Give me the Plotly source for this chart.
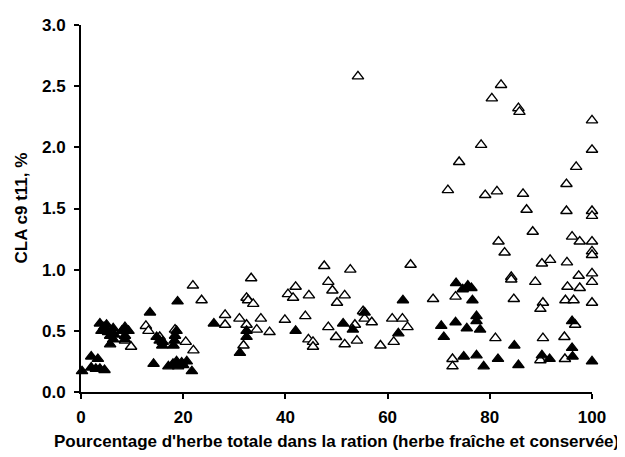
import plotly.graph_objects as go

# Filled triangles
filled_x = [0.2, 2.0, 3.3, 2.0, 2.9, 3.7, 4.6,
            3.7, 5.0, 6.3, 4.0, 5.3, 5.7, 5.7, 4.5, 6.5, 6.3,
            8.6, 9.3, 8.0, 8.6, 8.6,
            13.5, 14.2, 14.8, 15.4, 15.9, 16.0,
            18.1, 18.3, 18.4, 18.7, 18.9,
            17.1, 18.0, 18.7, 19.7, 20.7, 21.7, 19.0, 20.0,
            26.0, 31.1, 32.4, 32.4, 42.0, 51.3, 53.2, 55.5, 63.0, 62.1,
            70.5, 71.0, 73.3, 73.4, 74.7, 75.7, 76.4, 75.5, 76.6,
            77.4, 77.4, 78.1, 74.9, 77.4, 78.8, 81.6, 84.8, 85.6,
            90.2, 91.7, 96.1, 96.1, 96.2, 100.0]
filled_y = [0.17, 0.29, 0.27, 0.20, 0.19, 0.19, 0.18,
            0.56, 0.55, 0.52, 0.50, 0.49, 0.46, 0.39, 0.53, 0.47, 0.43,
            0.53, 0.50, 0.50, 0.46, 0.43,
            0.65, 0.23, 0.45, 0.42, 0.38, 0.41,
            0.38, 0.42, 0.46, 0.50, 0.74,
            0.21, 0.23, 0.25, 0.24, 0.25, 0.17, 0.21, 0.22,
            0.56, 0.32, 0.50, 0.45, 0.50, 0.56, 0.51, 0.65, 0.75, 0.48,
            0.54, 0.45, 0.57, 0.89, 0.84, 0.87, 0.85, 0.52, 0.75,
            0.62, 0.58, 0.51, 0.29, 0.30, 0.21, 0.27, 0.38, 0.22,
            0.30, 0.27, 0.58, 0.36, 0.29, 0.25]

# Open triangles
open_x = [8.6, 9.8, 12.7, 13.2, 15.4, 18.4, 20.5, 22.0, 21.9, 23.6,
          28.2, 28.2, 31.0, 32.4, 32.7, 33.7, 33.3, 32.4, 31.8, 34.4,
          35.2, 36.9, 39.9, 40.5, 41.5, 42.0, 43.9, 44.6, 44.5, 45.4, 45.4,
          47.6, 48.4, 49.2, 50.1, 51.6, 48.4, 49.9, 51.6, 52.7, 53.6, 54.0,
          54.2, 55.2, 55.5, 56.9, 58.6, 64.5, 60.9, 62.9, 63.9, 61.2,
          68.9, 73.3, 72.7, 72.7,
          80.4, 82.2, 85.6, 85.8, 100.0, 78.3, 100.0, 74.0, 96.9, 95.0,
          71.8, 79.1, 81.4, 86.5, 87.2, 95.0, 100.0, 100.0, 88.4, 81.7,
          82.9, 96.1, 97.6, 100.0, 100.0, 100.0, 90.2, 91.8, 95.1,
          84.2, 84.2, 88.9, 97.4, 100.0, 100.0, 95.2, 97.6,
          84.7, 90.4, 89.9, 94.8, 96.4, 100.0,
          81.1, 90.4, 94.6, 96.7, 94.7, 89.9]
open_y = [0.42, 0.37, 0.54, 0.50, 0.45, 0.51, 0.41, 0.34, 0.87, 0.75,
          0.63, 0.55, 0.60, 0.77, 0.75, 0.72, 0.93, 0.55, 0.38, 0.51,
          0.60, 0.49, 0.59, 0.80, 0.77, 0.86, 0.62, 0.79, 0.43, 0.41, 0.37,
          1.03, 0.90, 0.83, 0.73, 0.79, 0.53, 0.45, 0.39, 1.00, 0.55, 0.42,
          2.58, 0.66, 0.60, 0.57, 0.38, 1.04, 0.60, 0.60, 0.53, 0.41,
          0.76, 0.78, 0.27, 0.21,
          2.40, 2.51, 2.32, 2.29, 2.22, 2.02, 1.98, 1.88, 1.84, 1.70,
          1.65, 1.61, 1.64, 1.62, 1.49, 1.48, 1.48, 1.44, 1.31, 1.23,
          1.14, 1.27, 1.23, 1.23, 1.15, 1.12, 1.05, 1.08, 1.06,
          0.94, 0.92, 0.90, 0.95, 0.97, 0.90, 0.86, 0.85,
          0.76, 0.73, 0.68, 0.75, 0.75, 0.73,
          0.44, 0.44, 0.45, 0.55, 0.27, 0.26]

x_ticks = [0, 20, 40, 60, 80, 100]
y_ticks = [0.0, 0.5, 1.0, 1.5, 2.0, 2.5, 3.0]
x_title = "Pourcentage d'herbe totale dans la ration (herbe fraîche et conservée)"
y_title = "CLA c9 t11, %"

fig = go.Figure()
fig.add_trace(go.Scatter(
    x=open_x, y=open_y, mode="markers", cliponaxis=False,
    marker=dict(symbol="triangle-up", size=10, color="white",
                line=dict(color="black", width=1.4)),
    showlegend=False))
fig.add_trace(go.Scatter(
    x=filled_x, y=filled_y, mode="markers", cliponaxis=False,
    marker=dict(symbol="triangle-up", size=10, color="black",
                line=dict(color="black", width=1.3)),
    showlegend=False))

font = dict(family="Liberation Sans, Arial, sans-serif", size=17, color="black",
            weight="bold")
fig.update_layout(
    width=617, height=449,
    margin=dict(l=73, r=33, t=17, b=65, autoexpand=False),
    plot_bgcolor="white", paper_bgcolor="white",
    font=font,
    annotations=[
        dict(text=x_title, xref="paper", yref="paper", x=0.5, y=0,
             xanchor="center", yanchor="top", yshift=-38, showarrow=False, font=font),
        dict(text=y_title, xref="paper", yref="paper", x=0, y=0.5,
             xanchor="center", yanchor="middle", xshift=-60, textangle=-90,
             showarrow=False, font=font),
    ],
)
fig.update_xaxes(
    range=[0, 100], tickvals=x_ticks, showgrid=False, zeroline=False,
    showline=True, linecolor="black", linewidth=2, automargin=False,
    ticks="outside", ticklen=5, tickwidth=2, tickcolor="black",
    ticklabelstandoff=4, tickfont=font,
)
fig.update_yaxes(
    range=[0, 3], tickvals=y_ticks, tickformat=".1f", showgrid=False, zeroline=False,
    showline=True, linecolor="black", linewidth=2, automargin=False,
    ticks="outside", ticklen=5, tickwidth=2, tickcolor="black",
    ticklabelstandoff=5, tickfont=font,
)
fig.write_html("out.html")
